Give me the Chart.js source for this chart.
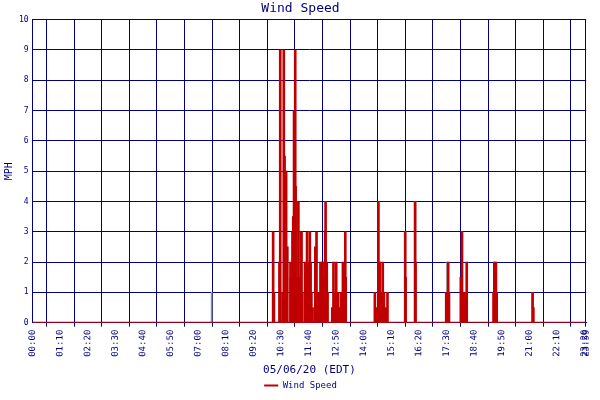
<!DOCTYPE html>
<html>
<head>
<script src="https://cdn.jsdelivr.net/npm/chart.js@4.4.0/dist/chart.umd.min.js"></script>
<style>body{margin:0;background:#fff}#wrap{width:600px;height:400px}</style>
</head>
<body>
<div id="wrap"><canvas id="c"></canvas></div>
<script>
// minutes after midnight, wind speed in MPH
var times = [610,612,626,628,634,637,639,643,644,646,654,655,659,661,663,666,667,670,674,676,680,682,684,
  691,693,694,696,699,703,705,707,710,717,720,721,726,730,734,736,740,742,743,746,748,760,763,766,770,775,777,
  783,787,790,793,794,868,870,877,879,881,883,886,888,891,897,900,945,946,970,971,1049,1051,1054,1056,
  1086,1089,1094,1099,1101,1169,1171,1175,1177,1268,1270];
var speeds = [3,1,2,9,1,9,5.5,5,1.5,2.5,2,1.5,3,3.5,7,9,4.5,1.5,4,1.5,3,3,1,
  2,1,1,3,2,3,2,1,0.5,2.5,3,1,1,2,2,1.5,2,3,4,2,1,0.5,2,1,2,1,0.5,
  1,2,1,3,1.5,1,0.5,4,2,2,1,0.5,2,1,0.5,1,3,1.5,4,2,1,1,2,1,
  1.5,3,1,1,2,1,2,2,1,1,0.5];
var otherTimes = [454,945,971,1051,1089,1171,1268];
var otherSpeeds = [1,3,4,2,3,2,1];
var tickMinutes = [0,70,140,210,280,350,420,490,560,630,700,770,840,910,980,1050,1120,1190,1260,1330,1400,1404];
var tickLabels = ['00:00','01:10','02:20','03:30','04:40','05:50','07:00','08:10','09:20','10:30','11:40',
  '12:50','14:00','15:10','16:20','17:30','18:40','19:50','21:00','22:10','23:20','23:59'];

var navy = '#000080';
var mono = 'DejaVu Sans Mono';

new Chart(document.getElementById('c'), {
  type: 'bar',
  data: {
    datasets: [{
      label: 'Wind Speed',
      data: times.map(function(t,i){return {x:t,y:speeds[i]};}),
      backgroundColor: '#c00000', borderColor: '#c00000',
      barThickness: 2, grouped: false, order: 1
    },{
      label: 'other',
      data: otherTimes.map(function(t,i){return {x:t,y:otherSpeeds[i]};}),
      backgroundColor: '#909090', barThickness: 1, grouped: false, order: 2
    },{
      type: 'line', label: 'base',
      data: [{x:0,y:0},{x:1404,y:0}],
      borderColor: '#c00000', borderWidth: 2, pointRadius: 0, order: 0
    }]
  },
  options: {
    animation: false, responsive: true, maintainAspectRatio: false,
    layout: {padding: {left: 3, right: 2, top: 0, bottom: 0}},
    plugins: {
      title: {display: true, text: 'Wind Speed', color: navy, font: {family: mono, size: 13, weight: 'normal'}, padding: {top: 1, bottom: 3}},
      legend: {position: 'bottom',
        labels: {color: navy, font: {family: mono, size: 9}, boxWidth: 14, boxHeight: 2, padding: 4,
          filter: function(it){return it.text === 'Wind Speed';}}},
      tooltip: {enabled: false}
    },
    scales: {
      x: {type: 'linear', min: 0, max: 1404, offset: false,
        afterBuildTicks: function(s){s.ticks = tickMinutes.map(function(v){return {value:v};});},
        ticks: {color: navy, font: {family: mono, size: 9}, minRotation: 89.9, maxRotation: 90, autoSkip: false,
          callback: function(v){return tickLabels[tickMinutes.indexOf(v)];}},
        grid: {color: navy, lineWidth: 1, tickLength: 4},
        border: {color: navy},
        title: {display: true, text: '05/06/20 (EDT)', color: navy, font: {family: mono, size: 11}, padding: {top: 4, bottom: 0}}
      },
      y: {min: 0, max: 10,
        ticks: {stepSize: 1, color: navy, font: {family: mono, size: 8}, padding: 4},
        grid: {color: navy, lineWidth: 1, tickLength: 0},
        border: {color: navy},
        title: {display: true, text: 'MPH', color: navy, font: {family: mono, size: 10}, padding: 0}
      }
    }
  }
});
</script>
</body>
</html>
